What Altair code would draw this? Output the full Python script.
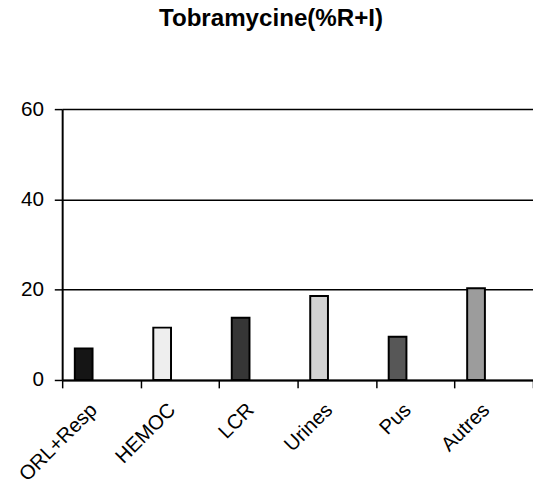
import altair as alt
import pandas as pd

categories = ["ORL+Resp", "HEMOC", "LCR", "Urines", "Pus", "Autres"]
values = [7.0, 11.6, 13.8, 18.6, 9.6, 20.3]
y_ticks = [0, 20, 40, 60]

fills = ["#151515", "#eeeeee", "#363636", "#d2d2d2", "#575757", "#9c9c9c"]

df = pd.DataFrame({"cat": categories, "val": values})

FONT = "Liberation Sans"

chart = alt.Chart(df).mark_bar(
    width=18, xOffset=-18, stroke="black", strokeWidth=2
).encode(
    x=alt.X(
        "cat:N",
        sort=categories,
        scale=alt.Scale(paddingInner=0, paddingOuter=0),
        axis=alt.Axis(
            title=None,
            labelAngle=-45,
            labelAlign="right",
            labelBaseline="middle",
            labelFont=FONT,
            labelFontSize=20.5,
            labelColor="black",
            labelPadding=19,
            labelOffset=-8,
            tickBand="extent",
            tickSize=8,
            tickColor="black",
            tickWidth=1.5,
            domainColor="black",
            domainWidth=2,
            grid=False,
        ),
    ),
    y=alt.Y(
        "val:Q",
        scale=alt.Scale(domain=[0, 60], nice=False),
        axis=alt.Axis(
            title=None,
            values=y_ticks,
            labelFont=FONT,
            labelFontSize=21,
            labelColor="black",
            labelPadding=11,
            tickSize=8,
            tickColor="black",
            tickWidth=1.5,
            domainColor="black",
            domainWidth=2,
            grid=True,
            gridColor="black",
            gridWidth=1.5,
            gridOpacity=1,
        ),
    ),
    color=alt.Color("cat:N", scale=alt.Scale(domain=categories, range=fills), legend=None),
).properties(
    width=478,
    height=275,
    title=alt.TitleParams(
        text="Tobramycine(%R+I)",
        font=FONT,
        fontSize=24.5,
        fontWeight="bold",
        color="black",
        anchor="middle",
        dx=-27,
        offset=49,
        baseline="alphabetic",
    ),
    autosize=alt.AutoSizeParams(type="none"),
    padding={"left": 55, "top": 99, "right": 0, "bottom": 105},
).configure_view(stroke=None)

chart.save("out.html", embed_options={"renderer": "svg", "actions": False})
